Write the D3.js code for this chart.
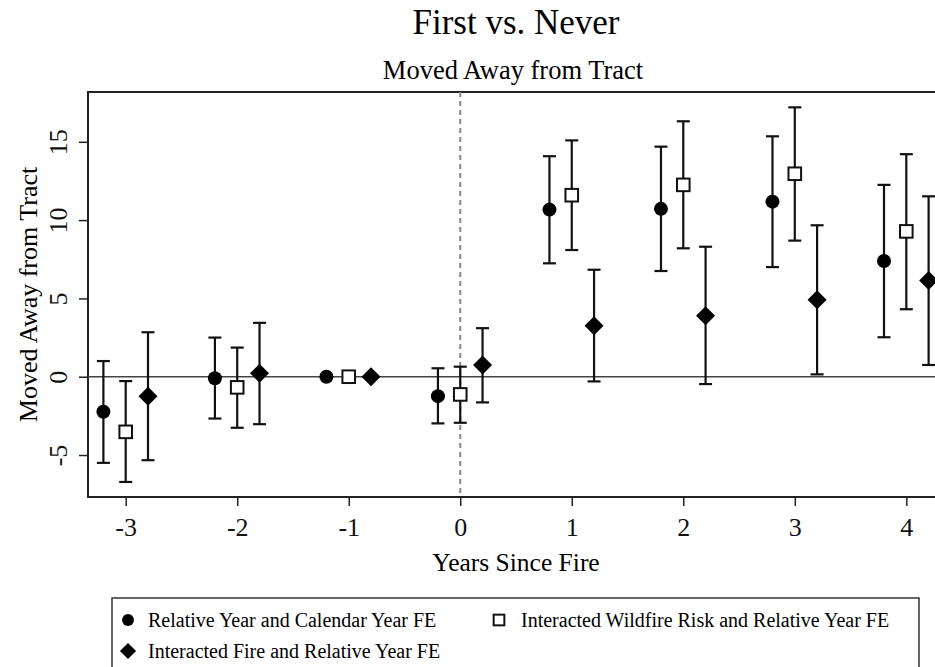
<!DOCTYPE html>
<html>
<head>
<meta charset="utf-8">
<script src="https://cdn.jsdelivr.net/npm/d3@7"></script>
<style>
  body { margin: 0; background: #fff; }
  svg { display: block; font-family: "Liberation Serif", "Times New Roman", serif; }
</style>
</head>
<body>
<svg id="chart" width="935" height="667"></svg>
<script>
// relative years and series names
const years = [-3, -2, -1, 0, 1, 2, 3, 4]
const seriesNames = [
  'Relative Year and Calendar Year FE',
  'Interacted Wildfire Risk and Relative Year FE',
  'Interacted Fire and Relative Year FE'
]
const offsets = [-0.2, 0, 0.2]

// point estimates
const estCalendar = [-2.24, -0.1, 0, -1.24, 10.67, 10.72, 11.18, 7.39]
const estRisk     = [-3.52, -0.68, 0, -1.13, 11.59, 12.25, 12.96, 9.28]
const estFire     = [-1.24, 0.22, 0, 0.75, 3.25, 3.89, 4.91, 6.15]

// confidence intervals (null = reference year, no interval)
const loCalendar = [-5.5, -2.67, null, -2.98, 7.24, 6.75, 7.0, 2.52]
const hiCalendar = [1.0, 2.5, null, 0.54, 14.08, 14.69, 15.35, 12.25]
const loRisk     = [-6.72, -3.26, null, -2.94, 8.09, 8.2, 8.69, 4.31]
const hiRisk     = [-0.28, 1.86, null, 0.64, 15.09, 16.31, 17.2, 14.21]
const loFire     = [-5.33, -3.03, null, -1.64, -0.3, -0.47, 0.15, 0.75]
const hiFire     = [2.84, 3.44, null, 3.1, 6.83, 8.3, 9.67, 11.52]

const yTicks = [-5, 0, 5, 10, 15]

const series = [
  { name: seriesNames[0], est: estCalendar, lo: loCalendar, hi: hiCalendar, shape: 'circle' },
  { name: seriesNames[1], est: estRisk, lo: loRisk, hi: hiRisk, shape: 'square' },
  { name: seriesNames[2], est: estFire, lo: loFire, hi: hiFire, shape: 'diamond' }
]

const svg = d3.select('#chart')
const margin = { left: 88, top: 92, right: 944, bottom: 497 }

const x = d3.scaleLinear().domain([-3.338, 4.338]).range([margin.left, margin.right])
const y = d3.scaleLinear().domain([-7.68, 18.18]).range([margin.bottom, margin.top])

// stata style: plain hyphen for negatives
const fmt = function (d) { return String(d) }

// titles
svg.append('text').attr('x', 516).attr('y', 34).attr('text-anchor', 'middle')
  .style('font-size', '35px').text('First vs. Never')
svg.append('text').attr('x', 513).attr('y', 79).attr('text-anchor', 'middle')
  .style('font-size', '26.5px').text('Moved Away from Tract')

// plot frame
svg.append('rect')
  .attr('x', margin.left).attr('y', margin.top)
  .attr('width', margin.right - margin.left).attr('height', margin.bottom - margin.top)
  .attr('fill', 'none').attr('stroke', '#222').attr('stroke-width', 2)

// axes
const xAxis = svg.append('g').attr('transform', 'translate(0,' + margin.bottom + ')')
  .call(d3.axisBottom(x).tickValues(years).tickSize(9).tickSizeOuter(0).tickPadding(12).tickFormat(fmt))
xAxis.select('.domain').remove()
xAxis.selectAll('line').attr('stroke', '#222').attr('stroke-width', 1.5)
xAxis.selectAll('text').style('font-size', '26px').style('font-family', 'Liberation Serif').attr('fill', '#111')

const yAxis = svg.append('g').attr('transform', 'translate(' + margin.left + ',0)')
  .call(d3.axisLeft(y).tickValues(yTicks).tickSize(9).tickSizeOuter(0).tickFormat(fmt))
yAxis.select('.domain').remove()
yAxis.selectAll('line').attr('stroke', '#222').attr('stroke-width', 1.5)
yAxis.selectAll('text')
  .attr('x', null).attr('dy', null)
  .attr('transform', 'translate(-21,0) rotate(-90)')
  .attr('text-anchor', 'middle')
  .style('font-size', '26px').style('font-family', 'Liberation Serif').attr('fill', '#111')

// axis titles
svg.append('text').attr('x', 516).attr('y', 571).attr('text-anchor', 'middle')
  .style('font-size', '25.5px').text('Years Since Fire')
svg.append('text').attr('transform', 'translate(28,' + ((margin.top + margin.bottom) / 2) + ') rotate(-90)')
  .attr('text-anchor', 'middle').attr('dy', '0.35em')
  .style('font-size', '26px').text('Moved Away from Tract')

// reference lines
svg.append('line')
  .attr('x1', margin.left).attr('x2', margin.right)
  .attr('y1', y(0)).attr('y2', y(0))
  .attr('stroke', '#444').attr('stroke-width', 1.5)
svg.append('line')
  .attr('x1', x(0)).attr('x2', x(0))
  .attr('y1', margin.top).attr('y2', margin.bottom)
  .attr('stroke', '#888').attr('stroke-width', 2).attr('stroke-dasharray', '5,4')

function drawMarker(g, shape, cx, cy, k) {
  k = k || 1
  let p
  if (shape === 'circle') {
    p = g.append('circle').attr('cx', cx).attr('cy', cy).attr('r', 7 * k).attr('fill', '#000')
  } else if (shape === 'square') {
    const h = 6.3 * k
    p = g.append('rect').attr('x', cx - h).attr('y', cy - h).attr('width', 2 * h).attr('height', 2 * h)
      .attr('fill', '#fff').attr('stroke', '#111').attr('stroke-width', 2)
  } else {
    const h = 9.5 * k
    p = g.append('path')
      .attr('d', 'M' + cx + ',' + (cy - h) + 'L' + (cx + h) + ',' + cy + 'L' + cx + ',' + (cy + h) + 'L' + (cx - h) + ',' + cy + 'Z')
      .attr('fill', '#000')
  }
  return p
}

const capW = 6.5
series.forEach(function (s, si) {
  const g = svg.append('g')
  years.forEach(function (yr, i) {
    const cx = x(yr + offsets[si])
    if (s.lo[i] !== null) {
      g.append('line').attr('x1', cx).attr('x2', cx)
        .attr('y1', y(s.lo[i])).attr('y2', y(s.hi[i]))
        .attr('stroke', '#111').attr('stroke-width', 2.2)
      ;[s.lo[i], s.hi[i]].forEach(function (v) {
        g.append('line').attr('x1', cx - capW).attr('x2', cx + capW)
          .attr('y1', y(v)).attr('y2', y(v))
          .attr('stroke', '#111').attr('stroke-width', 2.2)
      })
    }
  })
  years.forEach(function (yr, i) {
    drawMarker(g, s.shape, x(yr + offsets[si]), y(s.est[i]))
  })
})

// legend
const legend = svg.append('g')
legend.append('rect')
  .attr('x', 112).attr('y', 598).attr('width', 807).attr('height', 90)
  .attr('fill', '#fff').attr('stroke', '#333').attr('stroke-width', 1.5)

const legendPos = [
  { x: 128, y: 620 },
  { x: 499, y: 620 },
  { x: 128, y: 651 }
]
series.forEach(function (s, si) {
  const p = legendPos[si]
  drawMarker(legend, s.shape, p.x, p.y, 0.85)
  legend.append('text').attr('x', p.x + (si === 1 ? 22 : 20)).attr('y', p.y).attr('dy', '0.35em')
    .style('font-size', '20px').text(s.name)
})
</script>
</body>
</html>
